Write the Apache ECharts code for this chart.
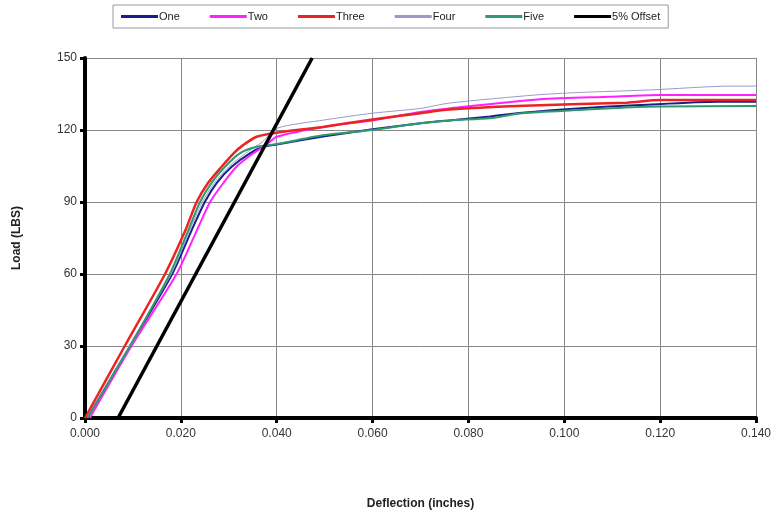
<!DOCTYPE html>
<html>
<head>
<meta charset="utf-8">
<script src="https://cdn.jsdelivr.net/npm/echarts@6/dist/echarts.min.js"></script>
<style>
  html, body { margin: 0; padding: 0; background: #fff; }
  #chart { width: 776px; height: 515px; }
</style>
</head>
<body>
<div id="chart"></div>
<script>
// load vs deflection, [inches, lbs]
const one = [[0.0005, 0], [0.0094, 30], [0.0182, 60], [0.0222, 78], [0.025, 90], [0.0275, 98], [0.0306, 104.7], [0.0344, 110.3], [0.0372, 113], [0.040, 114], [0.050, 117.4], [0.060, 120.3], [0.070, 122.8], [0.076, 124], [0.0845, 125.6], [0.0912, 127.2], [0.1027, 129], [0.1158, 130.4], [0.132, 131.8], [0.140, 131.8]];
const two = [[0.001, 0], [0.0097, 30], [0.0191, 60], [0.0233, 78], [0.0261, 90], [0.0289, 98], [0.0316, 104.7], [0.0351, 110.3], [0.0379, 114], [0.040, 117.2], [0.050, 121.4], [0.060, 124], [0.070, 127.5], [0.076, 129], [0.095, 132.8], [0.1095, 133.9], [0.120, 134.6], [0.140, 134.6]];
const three = [[0, 0], [0.0083, 30], [0.0167, 60], [0.0209, 78], [0.0233, 90], [0.0257, 98], [0.0285, 104.7], [0.031, 110.3], [0.033, 113.7], [0.0358, 117.2], [0.040, 118.9], [0.050, 121.4], [0.060, 124.4], [0.070, 127], [0.076, 128.5], [0.090, 130], [0.113, 131.4], [0.120, 132.5], [0.140, 132.5]];
const four = [[0.0005, 0], [0.0092, 30], [0.018, 60], [0.0218, 78], [0.0245, 90], [0.027, 98], [0.030, 104.7], [0.0335, 110.3], [0.037, 115], [0.040, 120.7], [0.050, 124.2], [0.060, 127], [0.070, 129], [0.076, 131.2], [0.094, 134.6], [0.1027, 135.6], [0.118, 136.7], [0.135, 138.3], [0.140, 138.3]];
const five = [[0.0005, 0], [0.0094, 30], [0.0177, 60], [0.0215, 78], [0.024, 90], [0.0264, 98], [0.0292, 104.7], [0.0323, 110.3], [0.0358, 113], [0.040, 114.2], [0.050, 117.9], [0.060, 120], [0.070, 122.8], [0.076, 124], [0.0845, 124.9], [0.0912, 127], [0.1027, 128.3], [0.117, 129.7], [0.140, 130]];
const offset = [[0.0069, 0], [0.0474, 150]];

const seriesNames = ['One', 'Two', 'Three', 'Four', 'Five', '5% Offset'];
const seriesData = [one, two, three, four, five, offset];
const colors = ['#1c1c8a', '#ff22ff', '#ee2222', '#9a9ac8', '#2e9a6e', '#000000'];
const widths = [2, 2, 2.5, 1, 2, 3.5];

const chart = echarts.init(document.getElementById('chart'));

const option = {
  animation: false,
  textStyle: { fontFamily: 'Liberation Sans, Arial, sans-serif' },
  legend: {
    top: 5,
    left: 113,
    data: seriesNames,
    icon: 'rect',
    itemWidth: 37,
    itemHeight: 3,
    itemGap: 30,
    padding: [6, 8],
    borderColor: '#999',
    borderWidth: 1,
    textStyle: { fontSize: 11, color: '#222', padding: [0, 0, 0, -4] }
  },
  grid: { left: 85, right: 20, top: 58, bottom: 97 },
  xAxis: {
    type: 'value',
    min: 0,
    max: 0.14,
    interval: 0.02,
    name: 'Deflection (inches)',
    nameLocation: 'middle',
    nameGap: 80,
    nameTextStyle: { fontWeight: 'bold', fontSize: 12, color: '#222' },
    axisLine: { onZero: false, lineStyle: { color: '#000', width: 4 } },
    axisTick: { show: true, length: 5, lineStyle: { color: '#000', width: 3 } },
    axisLabel: { fontSize: 12, color: '#333', margin: 10, formatter: v => v.toFixed(3) },
    splitLine: { show: true, lineStyle: { color: '#888', width: 1 } }
  },
  yAxis: {
    type: 'value',
    min: 0,
    max: 150,
    interval: 30,
    name: 'Load (LBS)',
    nameLocation: 'middle',
    nameGap: 62,
    nameTextStyle: { fontWeight: 'bold', fontSize: 12, color: '#222' },
    axisLine: { show: true, lineStyle: { color: '#000', width: 4 } },
    axisTick: { show: true, length: 5, lineStyle: { color: '#000', width: 3 } },
    axisLabel: { fontSize: 12, color: '#333', margin: 8 },
    splitLine: { show: true, lineStyle: { color: '#888', width: 1 } }
  },
  series: seriesNames.map((name, i) => ({
    name: name,
    type: 'line',
    data: seriesData[i],
    showSymbol: false,
    symbol: 'none',
    smooth: i === 5 ? false : 0.25,
    color: colors[i],
    lineStyle: { color: colors[i], width: widths[i] },
    z: i === 5 ? 3 : 2
  }))
};

chart.setOption(option);
</script>
</body>
</html>
